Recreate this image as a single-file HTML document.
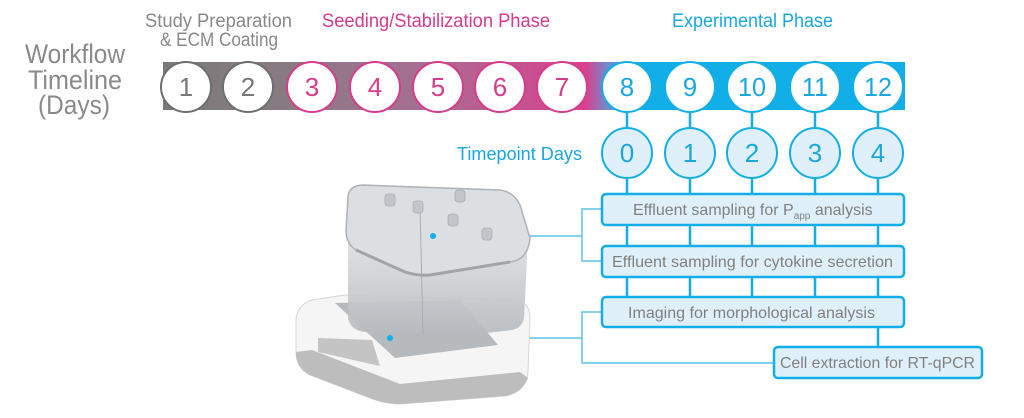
<!DOCTYPE html>
<html><head><meta charset="utf-8"><style>
html,body{margin:0;padding:0;background:#fff;width:1024px;height:418px;overflow:hidden}
svg text{font-family:"Liberation Sans",sans-serif}
</style></head><body>
<svg width="1024" height="418" viewBox="0 0 1024 418" xmlns="http://www.w3.org/2000/svg">
<defs>
<linearGradient id="bar" x1="163" x2="905" y1="0" y2="0" gradientUnits="userSpaceOnUse">
<stop offset="0" stop-color="#7a7a7a"/>
<stop offset="0.18" stop-color="#8a7a82"/>
<stop offset="0.35" stop-color="#a86e92"/>
<stop offset="0.57" stop-color="#d9408e"/>
<stop offset="0.6" stop-color="#6a8fd0"/>
<stop offset="0.65" stop-color="#12aee8"/>
<stop offset="1" stop-color="#12aee8"/>
</linearGradient>
<linearGradient id="box" x1="0" y1="0" x2="0" y2="1">
<stop offset="0" stop-color="#e4e6e8"/><stop offset="1" stop-color="#b4b8bc"/>
</linearGradient>
</defs>
<g fill="#8a8a8a" font-size="27">
<text x="25" y="63" textLength="100" lengthAdjust="spacingAndGlyphs">Workflow</text>
<text x="28" y="89" textLength="94" lengthAdjust="spacingAndGlyphs">Timeline</text>
<text x="38" y="114" textLength="72" lengthAdjust="spacingAndGlyphs">(Days)</text>
</g>
<text x="145" y="27" font-size="19" fill="#888" textLength="147" lengthAdjust="spacingAndGlyphs">Study Preparation</text>
<text x="160" y="46" font-size="19" fill="#888" textLength="118" lengthAdjust="spacingAndGlyphs">&amp; ECM Coating</text>
<text x="322" y="27" font-size="19" fill="#d63b8c" textLength="228" lengthAdjust="spacingAndGlyphs">Seeding/Stabilization Phase</text>
<text x="672" y="27" font-size="19" fill="#1aa7e0" textLength="161" lengthAdjust="spacingAndGlyphs">Experimental Phase</text>
<text x="457" y="160" font-size="18" fill="#1aa7e0" textLength="125" lengthAdjust="spacingAndGlyphs">Timepoint Days</text>
<rect x="163" y="62" width="742" height="48" fill="url(#bar)"/>
<g stroke="#12aee8" stroke-width="2.5">
<line x1="627" y1="110" x2="627" y2="297"/><line x1="690" y1="110" x2="690" y2="297"/>
<line x1="752" y1="110" x2="752" y2="297"/><line x1="815" y1="110" x2="815" y2="297"/>
<line x1="878" y1="110" x2="878" y2="347"/>
</g>
<g stroke-width="2" font-size="26" text-anchor="middle">
<g stroke="#6e6e6e" fill="#fff"><ellipse cx="186" cy="87" rx="25" ry="25"/><ellipse cx="248" cy="87" rx="25" ry="25"/></g>
<g stroke="#d63b8c" fill="#fff"><ellipse cx="312" cy="87" rx="25" ry="25"/><ellipse cx="375" cy="87" rx="25" ry="25"/><ellipse cx="438" cy="87" rx="25" ry="25"/><ellipse cx="500" cy="87" rx="25" ry="25"/><ellipse cx="562" cy="87" rx="25" ry="25"/></g>
<g stroke="#12aee8" fill="#fff"><ellipse cx="627" cy="87" rx="25" ry="25"/><ellipse cx="690" cy="87" rx="25" ry="25"/><ellipse cx="752" cy="87" rx="25" ry="25"/><ellipse cx="815" cy="87" rx="25" ry="25"/><ellipse cx="878" cy="87" rx="25" ry="25"/></g>
<g stroke="#12aee8" fill="#dff0fa"><ellipse cx="627" cy="153" rx="25" ry="25"/><ellipse cx="690" cy="153" rx="25" ry="25"/><ellipse cx="752" cy="153" rx="25" ry="25"/><ellipse cx="815" cy="153" rx="25" ry="25"/><ellipse cx="878" cy="153" rx="25" ry="25"/></g>
<g stroke="none">
<g fill="#777"><text x="186" y="96">1</text><text x="248" y="96">2</text></g>
<g fill="#d63b8c"><text x="312" y="96">3</text><text x="375" y="96">4</text><text x="438" y="96">5</text><text x="500" y="96">6</text><text x="562" y="96">7</text></g>
<g fill="#1aa7e0"><text x="627" y="96">8</text><text x="690" y="96">9</text><text x="752" y="96" textLength="28" lengthAdjust="spacingAndGlyphs">10</text><text x="815" y="96" textLength="26" lengthAdjust="spacingAndGlyphs">11</text><text x="878" y="96" textLength="28" lengthAdjust="spacingAndGlyphs">12</text>
<text x="627" y="162">0</text><text x="690" y="162">1</text><text x="752" y="162">2</text><text x="815" y="162">3</text><text x="878" y="162">4</text></g>
</g></g>
<g stroke="#5bc3ea" stroke-width="1.5" fill="none">
<polyline points="602,209 582,209 582,261 602,261"/>
<line x1="433" y1="236" x2="582" y2="236"/>
<polyline points="602,312 582,312 582,363 774,363"/>
<line x1="390" y1="338" x2="582" y2="338"/>
</g>
<g stroke="#12aee8" stroke-width="2.5" fill="#dff0fa">
<rect x="602" y="194" width="302" height="31" rx="4"/>
<rect x="602" y="246" width="302" height="31" rx="4"/>
<rect x="602" y="297" width="302" height="30" rx="4"/>
<rect x="774" y="347" width="208" height="31" rx="4"/>
</g>
<g fill="#808080" font-size="16">
<text x="633" y="215">Effluent sampling for P<tspan font-size="10" dy="4">app</tspan><tspan dy="-4"> analysis</tspan></text>
<text x="612" y="267" textLength="281" lengthAdjust="spacingAndGlyphs">Effluent sampling for cytokine secretion</text>
<text x="628" y="318" textLength="247" lengthAdjust="spacingAndGlyphs">Imaging for morphological analysis</text>
<text x="780" y="368" textLength="195" lengthAdjust="spacingAndGlyphs">Cell extraction for RT-qPCR</text>
</g>
<path d="M296,322 Q296,305 312,300 L345,295 L515,300 Q530,302 530,318 L528,372 Q526,392 505,396 L400,404 Q385,404 370,398 L310,375 Q296,368 296,352 Z" fill="#f5f5f5" stroke="#d6d6d6"/>
<path d="M296,352 Q296,368 310,375 L370,398 Q385,404 400,404 L505,396 Q522,393 528,378 L520,372 L400,384 L312,350 Z" fill="#bdbdbd"/>
<path d="M318,338 L372,340 L380,366 L318,352 Z" fill="#c4c4c4"/>
<path d="M335,303 L460,300 L498,345 L395,358 Z" fill="#a2a6aa" opacity="0.75"/>
<path d="M348,225 L348,318 Q350,330 365,332 L425,340 L512,330 Q522,328 524,318 L528,240 Z" fill="url(#box)" opacity="0.92"/>
<path d="M348,198 Q348,186 362,185 L500,190 Q514,192 520,205 L530,238 Q528,260 510,262 L430,275 Q418,276 405,272 L356,250 Q346,244 346,230 Z" fill="#dcdfe2" stroke="#aeb2b6" stroke-width="1.5"/>
<path d="M356,250 L405,272 Q418,276 430,275 L510,262" fill="none" stroke="#a0a4a8" stroke-width="3"/>
<line x1="420" y1="205" x2="423" y2="335" stroke="#a8acb0"/>
<g fill="#c2c6ca" stroke="#a8acb0" stroke-width="0.8"><rect x="385" y="194" width="10" height="12" rx="3"/><rect x="413" y="201" width="10" height="12" rx="3"/><rect x="455" y="190" width="10" height="12" rx="3"/><rect x="448" y="214" width="10" height="12" rx="3"/><rect x="482" y="228" width="10" height="12" rx="3"/></g>
<circle cx="433" cy="236" r="3" fill="#12aee8"/>
<circle cx="390" cy="338" r="3" fill="#12aee8"/>
</svg>
</body></html>
